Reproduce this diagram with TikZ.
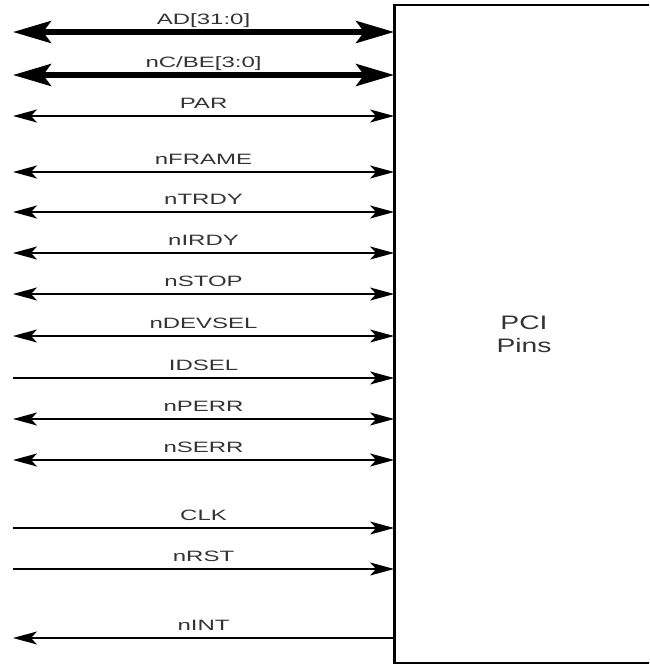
\documentclass[tikz,border=0pt]{standalone}
\usepackage{fontspec}
\usepackage{tikz}
\usetikzlibrary{arrows.meta}
\usetikzlibrary{positioning}
\newfontfamily\pinfont{Liberation Sans}[FakeStretch=1.45]
\newfontfamily\sigfont{Liberation Sans}[FakeStretch=1.6]

\tikzset{
	bus/.style={line width=5.5pt,arrows={Stealth[length=38pt,width=22pt,inset=8pt]-Stealth[length=38pt,width=22pt,inset=8pt]}},
	bidir/.style={line width=1.3pt,arrows={Stealth[length=24pt,width=13pt,inset=6pt]-Stealth[length=24pt,width=13pt,inset=6pt]}},
	inpin/.style={line width=1.3pt,arrows={-Stealth[length=24pt,width=13pt,inset=6pt]}},
	outpin/.style={line width=1.3pt,arrows={Stealth[length=24pt,width=13pt,inset=6pt]-}},
	pcibox/.style={draw,line width=1.8pt,minimum width=258pt,minimum height=658pt,inner sep=0pt,
		align=center,font=\pinfont\fontsize{19.5}{23}\selectfont}
}

\begin{document}
\begin{tikzpicture}
			[x=1pt,y=-1pt,every node/.style={text=black!80,font=\sigfont\fontsize{15}{17}\selectfont}]
			\useasboundingbox (0,0) rectangle (649,665);
			\clip (0,0) rectangle (649,665);
			\node[pcibox] (pci) at (524,334) {PCI\\Pins};
			\draw[line width=3pt] (pci.north west) -- (pci.south west);
			
			% signals: y / name / kind
			\foreach \y/\sig/\kind in 
			{32/AD[31:0]/bus, 75/{nC/BE[3:0]}/bus, 116/PAR/bidir, 172/nFRAME/bidir,
			212/nTRDY/bidir, 253/nIRDY/bidir, 294/nSTOP/bidir, 336/nDEVSEL/bidir,
			378/IDSEL/inpin, 419/nPERR/bidir, 460/nSERR/bidir, 528/CLK/inpin,
			569/nRST/inpin, 638/nINT/outpin}
			{
			\coordinate (s\y) at (13,\y);
			\draw[\kind] (s\y) -- (pci.west |- s\y)
				node[midway,anchor=base,yshift=8pt] (l\y) {\sig};
			}
			\end{tikzpicture}
\end{document}
